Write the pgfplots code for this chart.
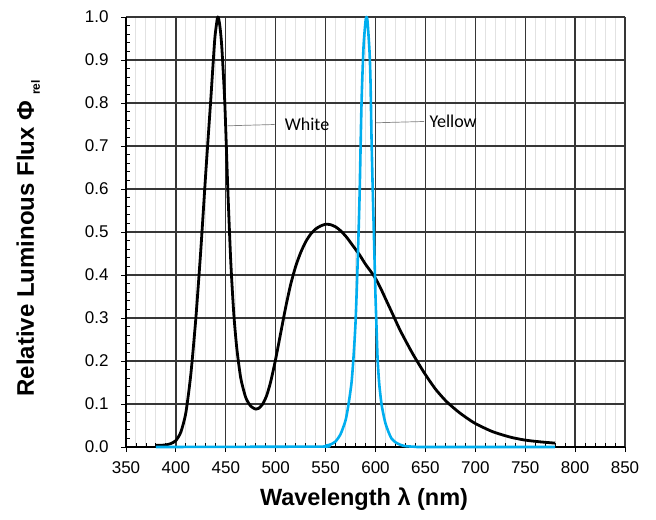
\documentclass[border=0pt]{standalone}
\usepackage{fontspec}
\setmainfont{Liberation Sans}
\newfontfamily\calibri{Carlito}
\usepackage{pgfplots}
\usepackage{pgfplotstable}
\pgfplotsset{compat=1.18}

\definecolor{yellowled}{HTML}{00AEEF}
\definecolor{gridmaj}{HTML}{363636}
\definecolor{gridmin}{HTML}{E2E2E2}

% white LED spectrum
\pgfplotstableread{
nm rel
380 0.004
385 0.004
390 0.005
395 0.008
400 0.015
405 0.035
410 0.08
415 0.17
420 0.30
425 0.46
430 0.64
435 0.81
439 0.95
442 1.00
444 0.98
446 0.93
449 0.80
452 0.60
455 0.43
458 0.31
461 0.23
465 0.16
470 0.115
475 0.095
480 0.088
483 0.090
487 0.100
491 0.120
495 0.152
500 0.205
505 0.265
510 0.325
515 0.378
520 0.420
525 0.452
530 0.477
535 0.495
540 0.507
545 0.514
550 0.518
555 0.517
560 0.512
565 0.503
571 0.488
578 0.466
584 0.447
590 0.425
599 0.396
605 0.370
610 0.345
617 0.310
625 0.270
637 0.218
649 0.172
660 0.135
671 0.106
684 0.080
699 0.056
717 0.036
735 0.023
750 0.016
765 0.012
780 0.009
}\whitetab

% yellow LED spectrum
\pgfplotstableread{
nm rel
380 0
545 0.001
550 0.003
555 0.006
560 0.013
565 0.030
570 0.062
573 0.100
576 0.150
578 0.210
580 0.290
582 0.420
584 0.580
586 0.800
588 0.930
590 0.990
591 1.000
592 0.990
594 0.920
595 0.850
596 0.720
597 0.620
598 0.530
599 0.440
600 0.350
601 0.280
602 0.210
603 0.170
604 0.140
606 0.100
608 0.075
610 0.055
613 0.035
616 0.020
620 0.011
625 0.005
630 0.002
640 0.0005
650 0
780 0
}\yellowtab

\begin{document}
\begin{tikzpicture}
\begin{axis}[
    scale only axis,
    width=499pt, height=430pt,
    xmin=350, xmax=850, ymin=0, ymax=1,
    xtick={350,400,...,850},
    ytick={0,0.1,0.2,0.3,0.4,0.5,0.6,0.7,0.8,0.9,1.0},
    minor x tick num=4,
    minor y tick num=4,
    axis lines=left,
    axis line style={-, line width=1.8pt, black},
    xmajorgrids, ymajorgrids, xminorgrids,
    major grid style={gridmaj, line width=1.3pt},
    minor grid style={gridmin, line width=1pt},
    tick align=inside,
    major tick length=0pt,
    minor tick length=4pt,
    tick style={black, line width=0.9pt},
    extra x ticks={350,400,...,850},
    extra x tick labels={},
    extra y ticks={0,0.1,0.2,0.3,0.4,0.5,0.6,0.7,0.8,0.9,1.0},
    extra y tick labels={},
    extra tick style={grid=none, tick align=outside, major tick length=5pt},
    tick label style={font=\fontsize{17}{20}\selectfont},
    /pgf/number format/assume math mode=true,
    yticklabel style={xshift=-14pt, /pgf/number format/.cd, fixed, fixed zerofill, precision=1},
    xticklabel style={yshift=-11pt, /pgf/number format/.cd, 1000 sep={}},
    xlabel={Wavelength λ (nm)},
    ylabel={Relative Luminous Flux Φ\hspace{6pt}{\fontsize{12}{12}\selectfont\raisebox{-6pt}{rel}}},
    every axis x label/.style={at={(rel axis cs:0.477,-0.122)}, anchor=center,
        font=\fontsize{23.5}{27}\selectfont\bfseries},
    every axis y label/.style={at={(rel axis cs:-0.196,0.485)}, rotate=90, anchor=center,
        font=\fontsize{24}{28}\selectfont\bfseries},
    clip=false,
]
\coordinate (sw) at (rel axis cs:0,0);
\coordinate (ne) at (rel axis cs:1,1);

\addplot[black, line width=2.8pt, line join=round, no marks, smooth, tension=0.4] table[x=nm, y=rel] {\whitetab};
\addplot[yellowled, line width=2.6pt, line join=round, no marks, smooth, tension=0.4] table[x=nm, y=rel] {\yellowtab};

\draw[gray, line width=0.7pt] (axis cs:452,0.747) -- (axis cs:499,0.750);
\node[anchor=west, inner sep=0pt, font=\calibri\fontsize{18}{21}\selectfont] at (axis cs:509,0.751) {White};
\draw[gray, line width=0.7pt] (axis cs:600.5,0.754) -- (axis cs:648.6,0.757);
\node[anchor=west, inner sep=0pt, font=\calibri\fontsize{18}{21}\selectfont] at (axis cs:654,0.758) {Yellow};
\end{axis}
\pgfresetboundingbox
\path[use as bounding box] ([shift={(-126pt,-72pt)}]sw) rectangle ([shift={(31pt,17pt)}]ne);
\end{tikzpicture}
\end{document}
